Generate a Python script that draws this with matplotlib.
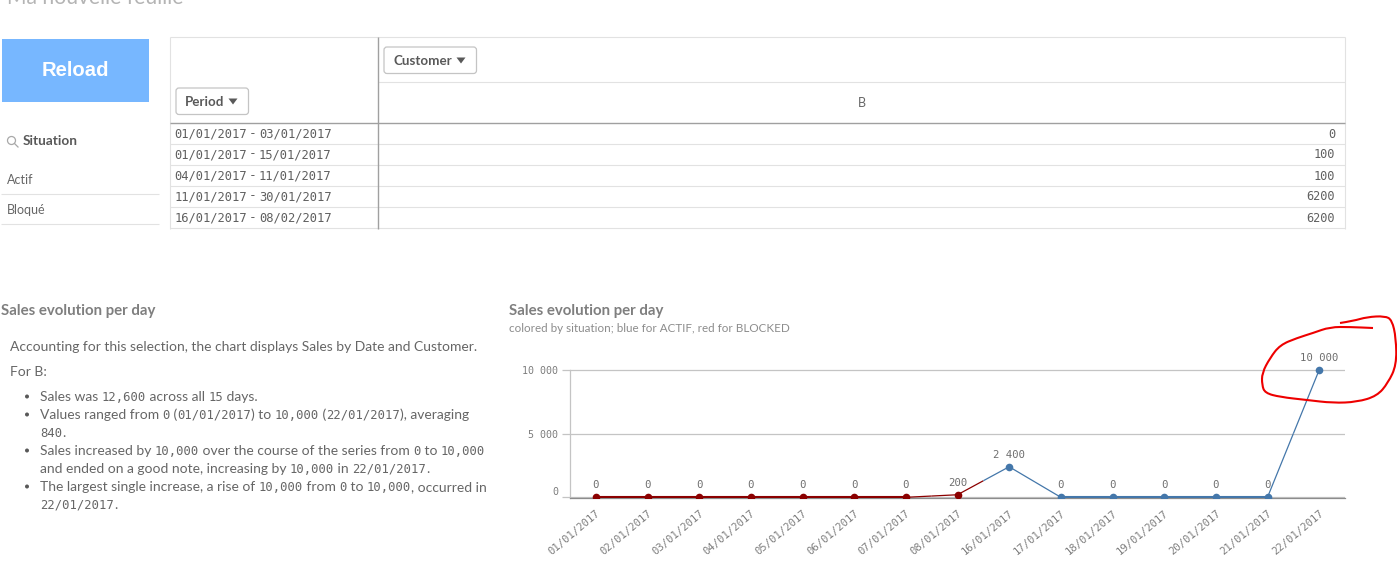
"""
Sales dashboard screenshot redrawn with matplotlib
"""
import re
import matplotlib
matplotlib.use("Agg")
import matplotlib.pyplot as plt
from matplotlib.patches import Rectangle, FancyBboxPatch, Circle, Polygon, PathPatch
from matplotlib.path import Path

W, H = 1397, 570

# line chart data
dates = ["01/01/2017", "02/01/2017", "03/01/2017", "04/01/2017", "05/01/2017",
         "06/01/2017", "07/01/2017", "08/01/2017", "16/01/2017", "17/01/2017",
         "18/01/2017", "19/01/2017", "20/01/2017", "21/01/2017", "22/01/2017"]
sales = [0, 0, 0, 0, 0, 0, 0, 200, 2400, 0, 0, 0, 0, 0, 10000]
situation = ["B", "B", "B", "B", "B", "B", "B", "B",
             "A", "A", "A", "A", "A", "A", "A"]
y_ticks = [0, 5000, 10000]

# table data
periods = ["01/01/2017 - 03/01/2017", "01/01/2017 - 15/01/2017",
           "04/01/2017 - 11/01/2017", "11/01/2017 - 30/01/2017",
           "16/01/2017 - 08/02/2017"]
period_sales = [0, 100, 100, 6200, 6200]

# filter pane and narrative text
filter_values = ["Actif", "Bloqué"]
intro_lines = ["Accounting for this selection, the chart displays Sales by Date and Customer.",
               "For B:"]
bullets = [["Sales was 12,600 across all 15 days."],
           ["Values ranged from 0 (01/01/2017) to 10,000 (22/01/2017), averaging", "840."],
           ["Sales increased by 10,000 over the course of the series from 0 to 10,000",
            "and ended on a good note, increasing by 10,000 in 22/01/2017."],
           ["The largest single increase, a rise of 10,000 from 0 to 10,000, occurred in",
            "22/01/2017."]]

# red hand drawn circle around the last point
scribble_x = [1340, 1353, 1367, 1385, 1392, 1396, 1396.5, 1388, 1377, 1357, 1333,
              1307, 1280, 1265, 1262, 1262, 1270, 1280, 1297, 1313, 1330, 1350, 1373]
scribble_y = [323, 321, 317, 316, 320, 338, 365, 383, 396, 402, 403,
              400, 397, 393, 385, 373, 358, 345, 338, 333, 327, 327, 328]

SANS = "Lato"
MONO = "DejaVu Sans Mono"
TEXT = "#666666"
GRID = "#c4c4c4"
DARK = "#a0a0a0"
LIGHT = "#e2e2e2"
RED = "#8b0000"
BLUE = "#4477aa"

fig = plt.figure(figsize=(W / 100, H / 100), dpi=100)
renderer = fig.canvas.get_renderer()

ui = fig.add_axes([0, 0, 1, 1], zorder=5)
ui.set_xlim(0, W)
ui.set_ylim(H, 0)
ui.axis("off")


def width_of(s, **kw):
    # wrap in bars so that the spaces at the ends get measured too
    t = ui.text(0, 0, "|" + s + "|", **kw)
    w = t.get_window_extent(renderer).width
    t.set_text("||")
    w -= t.get_window_extent(renderer).width
    t.remove()
    return w


def mixed_text(x, y, s, size=10, mono_size=8.8, color=TEXT):
    # numbers are set in a monospaced font with slashed zeros, the rest in the sans
    for part in re.split(r"(\d[\d,/]*\d|\d)", s):
        if not part:
            continue
        if part[0].isdigit():
            kw = dict(family=MONO, fontsize=mono_size, color=color)
        else:
            kw = dict(family=SANS, fontsize=size, color=color)
        ui.text(x, y, part, va="baseline", ha="left", **kw)
        x += width_of(part, **kw)


def hline(x0, x1, y, color=LIGHT, lw=0.8):
    ui.plot([x0, x1], [y - 0.5, y - 0.5], color=color, lw=lw, solid_capstyle="butt")


def vline(x, y0, y1, color=LIGHT, lw=0.8):
    ui.plot([x - 0.5, x - 0.5], [y0, y1], color=color, lw=lw, solid_capstyle="butt")


def dropdown(x, y, w, h, label):
    ui.add_patch(FancyBboxPatch((x + 2, y + 2), w - 4.5, h - 4.5, boxstyle="round,pad=2,rounding_size=3",
                                fc="white", ec="#c4c4c4", lw=0.9))
    ui.text(x + 9, y + h / 2 + 4.5, label, family=SANS, fontsize=9.6, fontweight="bold",
            color="#595959", va="baseline")
    tx = x + w - 16
    ty = y + h / 2 - 3
    ui.add_patch(Polygon([(tx - 4.5, ty), (tx + 4.5, ty), (tx, ty + 6)], fc="#595959", ec="none"))


# sheet title, cut off by the top of the screenshot
ui.text(7, 4, "Ma nouvelle feuille", family=SANS, fontsize=15.2, color="#b4b4b4", va="baseline")

# reload button
ui.add_patch(Rectangle((2, 39), 147, 63, fc="#77b7ff", ec="none"))
ui.text(75.5, 71, "Reload", family="Liberation Sans", fontsize=14.6, fontweight="bold",
        color="white", ha="center", va="center")

# filter pane
ui.add_patch(Circle((11.5, 140.5), 4, fc="none", ec="#a8a8a8", lw=0.9))
ui.plot([14.5, 18], [143.5, 147], color="#a8a8a8", lw=0.9)
ui.text(23, 145, "Situation", family=SANS, fontsize=9.8, fontweight="bold", color="#595959", va="baseline")
for i, name in enumerate(filter_values):
    ui.text(7, 184 + i * 30, name, family=SANS, fontsize=9, color=TEXT, va="baseline")
    hline(1, 159, 194.5 + i * 30)

# table
hline(170, 1345, 37.5)
vline(170.5, 37, 229)
vline(1345.5, 37, 229)
hline(378, 1345, 82.5)
for i in range(len(periods)):
    row_bottom = 144.5 + i * 21
    hline(170, 1345, row_bottom)
    mixed_text(174.5, row_bottom - 7, periods[i], size=9.5, mono_size=8.7, color="#5f5f5f")
    ui.text(1335, row_bottom - 7, str(period_sales[i]), family=MONO, fontsize=8.6,
            color="#5f5f5f", ha="right", va="baseline")
hline(170, 1345, 123.5, color=DARK, lw=1.0)
vline(378.5, 37, 229, color=DARK, lw=1.0)
ui.text(862, 103, "B", family=SANS, fontsize=9, color=TEXT, ha="center", va="center")
dropdown(176, 88, 73, 27, "Period")
dropdown(384, 47, 93, 27, "Customer")

# narrative
ui.text(1, 315, "Sales evolution per day", family=SANS, fontsize=10.8, fontweight="bold",
        color="#7f7f7f", va="baseline")
mixed_text(10, 351, intro_lines[0])
mixed_text(10, 376, intro_lines[1])
y = 401
for lines in bullets:
    ui.add_patch(Circle((27, y - 4.5), 2, fc="#595959", ec="none"))
    for line in lines:
        mixed_text(40, y, line)
        y += 18

# line chart titles
ui.text(509, 315, "Sales evolution per day", family=SANS, fontsize=10.8, fontweight="bold",
        color="#7f7f7f", va="baseline")
ui.text(509, 332, "colored by situation; blue for ACTIF, red for BLOCKED", family=SANS, fontsize=8.4,
        color="#8c8c8c", va="baseline")

# line chart
left, right, top, bottom = 570, 1345, 355, 498
ax = fig.add_axes([left / W, 1 - bottom / H, (right - left) / W, (bottom - top) / H], zorder=2)
ax.patch.set_alpha(0)
ax.set_xlim(-0.5, len(dates) - 0.5)
ax.set_ylim(-55, 11178)

positions = list(range(len(dates)))
colors = {"A": BLUE, "B": RED}
for i in range(len(dates) - 1):
    c0 = colors[situation[i]]
    c1 = colors[situation[i + 1]]
    xm = (positions[i] + positions[i + 1]) / 2
    ym = (sales[i] + sales[i + 1]) / 2
    # flat stretches look heavier than the slopes in the original
    lw = 1.5 if sales[i] == sales[i + 1] else 0.9
    ax.plot([positions[i], xm], [sales[i], ym], color=c0, lw=lw, zorder=3, solid_capstyle="butt")
    ax.plot([xm, positions[i + 1]], [ym, sales[i + 1]], color=c1, lw=lw, zorder=3, solid_capstyle="butt")
for i in positions:
    ax.plot(positions[i], sales[i], "o", color=colors[situation[i]], ms=5.5, mew=0, zorder=4)
    ax.annotate(f"{sales[i]:,}".replace(",", " "), (positions[i], sales[i]), xytext=(0, 8.6),
                textcoords="offset points", ha="center", va="center", family=MONO,
                fontsize=7.7, color="#6e6e6e")

ax.set_yticks(y_ticks)
ax.set_yticklabels([f"{v:,}".replace(",", " ") for v in y_ticks], family=MONO, fontsize=7.2, color="#7d7d7d")
ax.get_yticklabels()[0].set_verticalalignment("bottom")
ax.tick_params(axis="y", length=6, width=0.9, color=GRID, pad=2.5)
ax.set_xticks(positions)
ax.set_xticklabels(dates, rotation=40, ha="right", rotation_mode="anchor", family=MONO,
                   fontsize=7.6, color="#7d7d7d")
ax.tick_params(axis="x", length=0, pad=7)
ax.grid(axis="y", color=GRID, lw=0.9, zorder=1)
ax.set_axisbelow(True)
for side in ["top", "right"]:
    ax.spines[side].set_visible(False)
ax.spines["left"].set_color(GRID)
ax.spines["left"].set_linewidth(0.9)
ax.spines["left"].set_bounds(-55, 10000)
ax.spines["bottom"].set_color("#8c8c8c")
ax.spines["bottom"].set_linewidth(0.9)

# annotation drawn over the chart, the listed points act as curve controls
pts = list(zip(scribble_x, scribble_y))
verts = [pts[0]]
codes = [Path.MOVETO]
for p, q in zip(pts[1:-1], pts[2:]):
    verts += [p, ((p[0] + q[0]) / 2, (p[1] + q[1]) / 2)]
    codes += [Path.CURVE3, Path.CURVE3]
verts.append(pts[-1])
codes.append(Path.LINETO)
ui.add_patch(PathPatch(Path(verts, codes), fc="none", ec="#ee0000", lw=1.5))

fig.savefig("out.png", dpi=100)
